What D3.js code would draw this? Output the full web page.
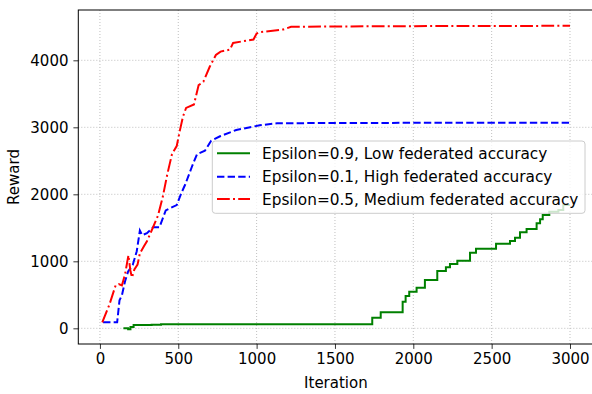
<!DOCTYPE html>
<html>
<head>
<meta charset="utf-8">
<script src="https://cdn.jsdelivr.net/npm/d3@7/dist/d3.min.js"></script>
<style>
  html, body { margin: 0; padding: 0; background: #fff; }
  svg { display: block; font-family: "DejaVu Sans", sans-serif; }
</style>
</head>
<body>
<svg id="chart" width="592" height="394"></svg>
<script>
// Reward curves per iteration for three privacy budgets
const seriesNames = [
  "Epsilon=0.9, Low federated accuracy",
  "Epsilon=0.1, High federated accuracy",
  "Epsilon=0.5, Medium federated accuracy"
];
const seriesColors = ["#008000", "#0000ff", "#ff0000"];

// Epsilon=0.9: stepwise reward
const lowAccuracy = [
  [150, 0], [180, -15], [195, 20], [215, 50], [330, 55], [390, 60],
  [1738, 158], [1792, 239], [1932, 397], [1951, 482], [1974, 546],
  [2021, 606], [2074, 721], [2153, 855], [2208, 910], [2234, 960],
  [2281, 1009], [2362, 1128], [2400, 1188], [2528, 1263], [2617, 1303],
  [2649, 1352], [2681, 1433], [2723, 1482], [2787, 1567], [2809, 1627],
  [2826, 1691], [2868, 1741], [2926, 1766], [2957, 1840], [3000, 1840]
];

// Epsilon=0.1
const highAccuracy = [
  [20, 90], [110, 90], [125, 420], [140, 490], [160, 700], [180, 850],
  [210, 950], [235, 1150], [255, 1460], [270, 1390], [300, 1420],
  [340, 1510], [380, 1510], [420, 1760], [490, 1840], [520, 2020],
  [545, 2150], [590, 2430], [620, 2600], [670, 2650], [710, 2800],
  [770, 2870], [870, 2960], [1020, 3030], [1130, 3060], [1500, 3065],
  [3000, 3070]
];

// Epsilon=0.5
const mediumAccuracy = [
  [15, 90], [60, 350], [100, 640], [120, 660], [140, 640], [160, 800],
  [175, 1000], [182, 1090], [195, 850], [205, 760], [220, 880],
  [240, 950], [255, 1120], [280, 1220], [300, 1300], [330, 1460],
  [370, 1680], [400, 1950], [430, 2300], [460, 2600], [490, 2720],
  [510, 2950], [530, 3160], [550, 3290], [600, 3340], [630, 3630],
  [660, 3680], [700, 3900], [740, 4080], [770, 4130], [830, 4160],
  [850, 4260], [980, 4310], [1000, 4400], [1020, 4420], [1170, 4460],
  [1220, 4500], [1500, 4505], [2000, 4510], [3000, 4515]
];

const xTicks = [0, 500, 1000, 1500, 2000, 2500, 3000];
const yTicks = [0, 1000, 2000, 3000, 4000];

const svg = d3.select("#chart");
const plotLeft = 78.3, plotRight = 593.5, plotTop = 10, plotBottom = 344;

const x = d3.scaleLinear().domain([-138, 3150]).range([plotLeft, plotRight]);
const y = d3.scaleLinear().domain([-234, 4751]).range([plotBottom, plotTop]);

svg.append("defs").append("clipPath").attr("id", "plot-clip")
  .append("rect").attr("x", plotLeft).attr("y", plotTop)
  .attr("width", plotRight - plotLeft).attr("height", plotBottom - plotTop);

// grid
const grid = svg.append("g").attr("stroke", "#b0b0b0").attr("stroke-width", 0.8)
  .attr("stroke-dasharray", "1,2");
grid.selectAll(".gx").data(xTicks).join("line")
  .attr("x1", d => x(d)).attr("x2", d => x(d)).attr("y1", plotTop).attr("y2", plotBottom);
grid.selectAll(".gy").data(yTicks).join("line")
  .attr("x1", plotLeft).attr("x2", plotRight).attr("y1", d => y(d)).attr("y2", d => y(d));

// axes
const fontSize = 15;
const xAxis = svg.append("g").attr("transform", `translate(0,${plotBottom})`)
  .call(d3.axisBottom(x).tickValues(xTicks).tickSize(4.9).tickPadding(4.5).tickFormat(d3.format("d")));
const yAxis = svg.append("g").attr("transform", `translate(${plotLeft},0)`)
  .call(d3.axisLeft(y).tickValues(yTicks).tickSize(4.9).tickPadding(4.9).tickFormat(d3.format("d")));
[xAxis, yAxis].forEach(g => {
  g.select(".domain").remove();
  g.selectAll(".tick line").attr("stroke", "#000").attr("stroke-width", 0.8);
  g.selectAll(".tick text").attr("fill", "#000").attr("font-size", fontSize)
    .attr("font-family", "DejaVu Sans, sans-serif");
});

// spines
svg.append("rect").attr("x", plotLeft).attr("y", plotTop)
  .attr("width", plotRight - plotLeft).attr("height", plotBottom - plotTop)
  .attr("fill", "none").attr("stroke", "#000").attr("stroke-width", 1);

// axis titles
svg.append("text").attr("x", (plotLeft + plotRight) / 2).attr("y", 388)
  .attr("text-anchor", "middle").attr("font-size", fontSize).text("Iteration");
svg.append("text").attr("transform", `translate(19,${(plotTop + plotBottom) / 2}) rotate(-90)`)
  .attr("text-anchor", "middle").attr("font-size", fontSize).text("Reward");

// lines
const plot = svg.append("g").attr("clip-path", "url(#plot-clip)");
const lineStep = d3.line().x(d => x(d[0])).y(d => y(d[1])).curve(d3.curveStepAfter);
const lineLin = d3.line().x(d => x(d[0])).y(d => y(d[1]));
const dashes = [null, "7.4,3.2", "12.8,3.2,2,3.2"];

plot.append("path").datum(lowAccuracy).attr("d", lineStep)
  .attr("fill", "none").attr("stroke", seriesColors[0]).attr("stroke-width", 2);
plot.append("path").datum(highAccuracy).attr("d", lineLin)
  .attr("fill", "none").attr("stroke", seriesColors[1]).attr("stroke-width", 2)
  .attr("stroke-dasharray", dashes[1]);
plot.append("path").datum(mediumAccuracy).attr("d", lineLin)
  .attr("fill", "none").attr("stroke", seriesColors[2]).attr("stroke-width", 2)
  .attr("stroke-dasharray", dashes[2]);

// legend
const legend = svg.append("g");
legend.append("rect").attr("x", 212.3).attr("y", 141).attr("width", 585 - 212.3).attr("height", 72.3)
  .attr("rx", 3).attr("fill", "#fff").attr("fill-opacity", 0.8)
  .attr("stroke", "#cccccc").attr("stroke-width", 1);
const rowsY = [153.3, 176.7, 199];
seriesNames.forEach((name, i) => {
  legend.append("line").attr("x1", 217).attr("x2", 250).attr("y1", rowsY[i]).attr("y2", rowsY[i])
    .attr("stroke", seriesColors[i]).attr("stroke-width", 2)
    .attr("stroke-dasharray", dashes[i]);
  legend.append("text").attr("x", 262).attr("y", rowsY[i]).attr("dy", "0.36em")
    .attr("font-size", 15.3).attr("fill", "#000").text(name);
});
</script>
</body>
</html>
